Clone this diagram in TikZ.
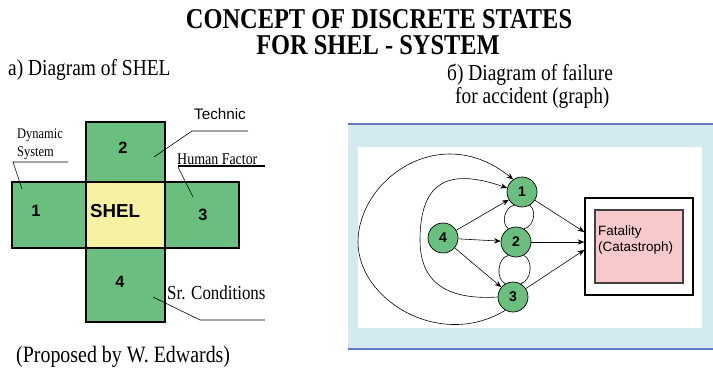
\documentclass[tikz,border=0pt]{standalone}
\usepackage{fontspec}
\setmainfont{Liberation Serif}[FakeStretch=0.85]
\setsansfont{Liberation Sans}
\usetikzlibrary{arrows.meta}

\definecolor{shelgreen}{RGB}{106,191,127}
\definecolor{shelyellow}{RGB}{246,241,160}
\definecolor{fatalpink}{RGB}{248,200,205}
\definecolor{panelblue}{RGB}{210,234,240}
\definecolor{panelline}{RGB}{95,120,200}

\newcommand{\fs}[1]{\fontsize{#1}{1.2\dimexpr #1pt\relax}\selectfont}

\begin{document}
\begin{tikzpicture}[
        x=0.03cm, y=-0.03cm,
        cell/.style={draw=black, line width=1.2pt, fill=shelgreen},
        cellnum/.style={font=\sffamily\bfseries\fs{14}},
        leader/.style={line width=0.5pt},
        state/.style={circle, draw=black, line width=0.6pt, fill=shelgreen,
            minimum size=0.9cm, inner sep=0pt, font=\sffamily\bfseries\fs{12}},
        edge/.style={-{Stealth[length=2mm, width=1.6mm]}, line width=0.5pt},
        loopline/.style={line width=0.5pt}
    ]
        \useasboundingbox (0,0) rectangle (713,367);

        % titles
        \node (title1) at (379,19) {\bfseries\fs{24.5}CONCEPT OF DISCRETE STATES};
        \node (title2) at (378,45) {\bfseries\fs{24.5}FOR SHEL - SYSTEM};
        \node[anchor=west, inner sep=0pt] (capa) at (8,70) {\fs{19.5}a) Diagram of SHEL};
        \node[anchor=west, inner sep=0pt] (capb1) at (447,75) {\fs{19.5}б) Diagram of failure};
        \node[anchor=west, inner sep=0pt] (capb2) at (455,98) {\fs{19.5}for accident (graph)};

        % SHEL cross
        \draw[cell] (86,122) rectangle (165,322);
        \draw[cell] (12,182) rectangle (239,248);
        \draw[cell, fill=shelyellow] (86,182) rectangle (165,248);

        \node[cellnum] (c1) at (36,211) {1};
        \node[cellnum] (c2) at (123,148) {2};
        \node[cellnum] (c3) at (203,215) {3};
        \node[cellnum] (c4) at (120,282) {4};
        \node[font=\sffamily\bfseries\fs{16}] (shel) at (115,211) {SHEL};

        % labels round the cross
        \node[font=\sffamily\fs{13}] (technic) at (220,114) {Technic};
        \coordinate (techend) at (154,157);
        \draw[leader] (techend) -- (192,131) -- (248,131);

        \node[anchor=west, align=left, inner sep=0pt, font=\fs{12.5}] (dynsys) at (17,144) {Dynamic\\System};
        \coordinate (dynend) at (22,189);
        \draw[leader] (dynend) -- (13,162) -- (68,162);

        \node[anchor=west, inner sep=0pt, font=\fs{14}] (human) at (177,159) {Human Factor};
        \coordinate (humend) at (193,197);
        \draw[line width=1pt] (178,166) -- (265,166);
        \draw[leader] (humend) -- (178,167);

        \node[anchor=west, inner sep=0pt, font=\fs{17}] (srcond) at (167,293) {Sr. Conditions};
        \coordinate (srend) at (153,297);
        \draw[leader] (srend) -- (200,320) -- (265,320);

        \node[anchor=west, inner sep=0pt, font=\fs{20}] (proposed) at (16,357) {(Proposed by W. Edwards)};

        % graph panel
        \fill[panelblue] (348,124) rectangle (713,349);
        \draw[panelline, line width=1pt] (348,124) -- (713,124);
        \draw[panelline, line width=1pt] (348,349) -- (713,349);
        \fill[white] (358,147) rectangle (702,328);

        \node[draw=black, line width=1.2pt, fill=white,
            minimum width=3.24cm, minimum height=2.91cm] (box) at (639,246.5) {};
        \node[draw=black!75, line width=1pt, fill=fatalpink,
            minimum width=2.64cm, minimum height=2.19cm] (pinkbox) at (639,246.5) {};
        \node[anchor=north west, align=left, inner sep=0pt,
            font=\sffamily\fs{11.5}] (fataltext) at (598,225) {Fatality\\(Catastroph)};

        \node[state] (g1) at (522,192) {1};
        \node[state] (g2) at (516,242) {2};
        \node[state] (g3) at (513,297) {3};
        \node[state] (g4) at (443,238) {4};

        \draw[edge] (g4) -- (g1);
        \draw[edge] (g4) -- (g2);
        \draw[edge] (g4) -- (g3);

        \draw[edge] (g1) -- ([yshift=0.435cm]box.west);
        \draw[edge] (g2) -- ([yshift=0.135cm]box.west);
        \draw[edge] (g3) -- ([yshift=-0.105cm]box.west);

        \draw[loopline] (g1.240) to[bend right=70] (g2.120);
        \draw[loopline] (g1.300) to[bend left=70] (g2.60);
        \draw[loopline] (g2.240) to[bend right=70] (g3.120);
        \draw[loopline] (g2.300) to[bend left=70] (g3.60);

        \coordinate (outerleft) at (358,242);
        \coordinate (innerleft) at (420,240);
        \draw[edge] (g3.240) .. controls (440,350) and (358,300) .. (outerleft)
            .. controls (358,180) and (440,120) .. (g1.125);
        \draw[edge] (g3.west) .. controls (450,300) and (420,285) .. (innerleft)
            .. controls (420,180) and (450,168) .. (g1.165);
    \end{tikzpicture}
\end{document}
